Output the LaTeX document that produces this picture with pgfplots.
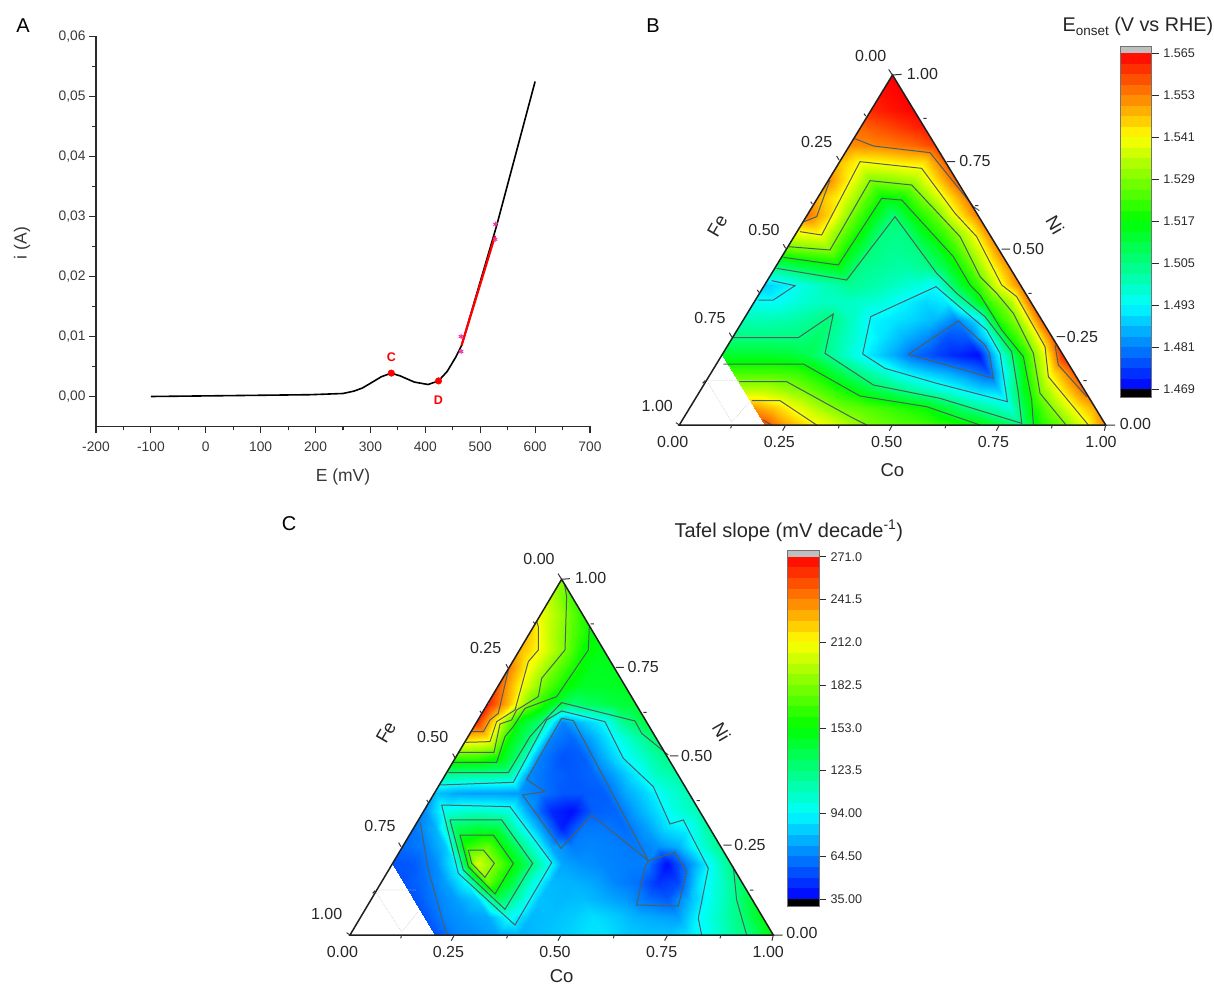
\documentclass[border=0pt]{standalone}
\usepackage{fontspec}
\setmainfont{Liberation Sans}
\usepackage{pgfplots}
\pgfplotsset{compat=1.18}
\definecolor{tk}{HTML}{2B2B2B}
\definecolor{cl}{HTML}{4F5F5F}
\pgfplotsset{
  colormap={rb}{rgb255=(0,0,255) rgb255=(0,255,255) rgb255=(0,255,0) rgb255=(255,255,0) rgb255=(255,0,0)},
}
\newcommand\fs[1]{\fontsize{#1}{#1}\selectfont}
% ---- value grids: colour-scale level (0 = scale minimum ... 8 = scale maximum) at Ni = j*0.05, Co = i*0.05
\newcommand\meshrow[3]{%
  \gdef\lastv{0}\gdef\nv{-1}%
  \foreach \v [count=\c from 0] in {#3}{%
    \pgfmathsetmacro\xx{0.05*\c+0.025*#2}\pgfmathsetmacro\yy{0.05*#2}%
    \xdef#1{#1 (\xx,\yy,0) [\v]}%
    \xdef\lastv{\v}\xdef\nv{\c}}%
  \pgfmathtruncatemacro\nst{\nv+1}%
  \ifnum\nst<21
    \foreach \c in {\nst,...,20}{%
      \pgfmathsetmacro\xx{0.05*\c+0.025*#2}\pgfmathsetmacro\yy{0.05*#2}%
      \xdef#1{#1 (\xx,\yy,0) [\lastv]}}%
  \fi}
\gdef\Bmesh{}\gdef\Cmesh{}
\meshrow\Bmesh{0}{8,8,8,8,7.4,6.7,6.2,5.8,5.3,4.95,4.75,4.6,4.4,4.2,4.0,3.5,3.0,4.25,4.9,5.8,7.0}
\meshrow\Bmesh{1}{8,8,8,6.8,6.4,5.85,5.35,4.93,4.7,4.5,4.27,4.05,3.55,3.03,2.7,2.3,4.0,5.05,6.0,6.7}
\meshrow\Bmesh{2}{6,6,5.45,5.45,5.2,4.88,4.43,3.99,3.5,3.1,2.75,2.4,2.08,1.7,1.6,3.5,5.1,6.2,7.15}
\meshrow\Bmesh{3}{4.5,4.5,4.5,4.5,4.4,4.0,3.4,2.85,2.4,1.9,1.6,1.35,1.05,0.7,2.55,4.6,6.2,7.3}
\meshrow\Bmesh{4}{3.66,3.66,3.66,3.6,3.4,2.85,2.3,1.8,1.35,0.85,0.55,0.3,0.1,2.0,3.9,5.65,7.7}
\meshrow\Bmesh{5}{3.0,3.0,3.0,3.0,3.2,2.65,2.2,1.8,1.45,1.15,0.65,0.7,1.9,4.1,5.4,7.2}
\meshrow\Bmesh{6}{2.6,2.6,2.65,2.8,3.05,2.5,1.95,1.8,1.65,1.45,1.02,1.85,4.25,5.3,7.3}
\meshrow\Bmesh{7}{2.1,2.05,2.3,2.45,2.45,2.4,2.25,1.95,1.7,1.85,3.0,4.4,5.3,7.2}
\meshrow\Bmesh{8}{1.6,1.9,2.3,2.6,2.85,2.7,2.5,2.3,2.05,3.4,4.45,5.85,7.0}
\meshrow\Bmesh{9}{3.0,3.34,3.6,3.83,2.9,2.8,2.7,2.85,3.5,4.5,5.75,6.9}
\meshrow\Bmesh{10}{4.7,4.86,5.0,3.9,3.05,2.85,2.95,3.6,4.5,5.65,6.95}
\meshrow\Bmesh{11}{6.0,6.1,5.02,3.98,3.0,2.95,3.85,4.6,5.65,6.9}
\meshrow\Bmesh{12}{7.1,6.3,5.0,4.0,3.15,4.0,4.75,6.0,7.05}
\meshrow\Bmesh{13}{6.6,6.05,5.0,4.0,4.15,5.05,6.1,7.05}
\meshrow\Bmesh{14}{6.9,6.0,5.0,5.1,5.3,6.25,7.25}
\meshrow\Bmesh{15}{6.5,6.0,6.05,6.2,6.25,7.3}
\meshrow\Bmesh{16}{6.9,6.95,7.05,7.2,7.5}
\meshrow\Bmesh{17}{7.2,7.4,7.6,7.8}
\meshrow\Bmesh{18}{7.7,7.85,8}
\meshrow\Bmesh{19}{7.9,8}
\meshrow\Bmesh{20}{8}
\meshrow\Cmesh{0}{0.6,0.6,0.6,0.6,0.65,1.05,1.15,1.3,1.4,1.5,1.6,1.75,1.8,1.6,1.55,1.55,1.8,2.15,2.7,3.1,4.0}
\meshrow\Cmesh{1}{0.6,0.6,0.6,0.65,1.05,1.2,1.35,2.1,1.45,1.5,1.6,1.75,1.6,1.4,1.3,1.25,2.0,2.5,3.1,3.9}
\meshrow\Cmesh{2}{0.6,0.6,0.65,0.98,1.25,1.6,3.3,2.5,1.5,1.45,1.5,1.35,1.2,0.9,0.7,1.4,2.15,2.75,3.6}
\meshrow\Cmesh{3}{0.6,0.65,0.85,1.25,2.0,4.8,3.65,2.4,1.45,1.4,1.3,1.05,0.9,0.4,0.55,1.8,2.4,3.15}
\meshrow\Cmesh{4}{0.65,0.7,1.1,2.0,5.7,4.8,3.7,2.6,1.3,1.15,1.05,1.0,1.0,0.1,1.1,2.05,2.95}
\meshrow\Cmesh{5}{0.85,1.0,1.55,4.3,4.75,3.6,2.5,1.3,1.0,1.05,1.0,0.95,1.15,1.4,2.2,2.9}
\meshrow\Cmesh{6}{0.9,1.4,3.3,3.55,3.45,2.3,1.3,0.25,0.95,0.95,0.85,1.25,1.75,2.0,2.8}
\meshrow\Cmesh{7}{1.1,2.2,2.4,2.4,2.25,1.2,0.3,0.1,0.75,0.8,1.3,1.75,2.3,2.6}
\meshrow\Cmesh{8}{1.5,1.3,1.25,1.25,1.2,0.95,0.7,0.7,0.75,1.3,1.7,2.25,2.6}
\meshrow\Cmesh{9}{2.85,2.75,2.75,2.7,1.05,0.8,0.7,0.8,1.3,1.85,2.5,2.7}
\meshrow\Cmesh{10}{4.55,4.5,4.1,3.0,1.0,0.65,0.75,1.4,2.0,2.5,2.95}
\meshrow\Cmesh{11}{6.3,6.1,3.95,3.0,1.0,0.8,1.35,2.0,2.6,3.2}
\meshrow\Cmesh{12}{7.6,5.9,3.85,3.1,1.05,1.55,2.0,2.95,3.5}
\meshrow\Cmesh{13}{7.7,6.5,4.8,3.85,3.1,3.3,3.5,3.65}
\meshrow\Cmesh{14}{7.3,6.1,5.0,4.1,3.7,3.7,3.75}
\meshrow\Cmesh{15}{7.0,5.9,5.0,4.2,3.75,3.8}
\meshrow\Cmesh{16}{6.6,5.95,5.05,4.05,3.85}
\meshrow\Cmesh{17}{6.4,5.45,4.7,3.95}
\meshrow\Cmesh{18}{5.9,5.15,4.3}
\meshrow\Cmesh{19}{5.4,4.55}
\meshrow\Cmesh{20}{5.0}
\pgfplotsset{
  meshaxis/.style={hide axis,scale only axis,view={0}{90},xmin=0,xmax=1,ymin=0,ymax=1,zmin=-1,zmax=1,
    point meta min=0,point meta max=8,clip=true},
  overlay/.style={hide axis,scale only axis,clip=false,y dir=reverse},
  cont/.style={cl,line width=1pt,no marks,sharp plot},
  cbar/.style={scale only axis,width=31.7pt,clip=false,xmin=0,xmax=1,ymin=0,ymax=32,xtick=\empty,
    ytick={0,4,...,32},ytick pos=right,tick align=outside,major tick length=7pt,
    tick style={tk,line width=0.7pt},axis line style={draw=gray!90!black,line width=0.8pt},
    yticklabel style={font=\fs{12.6},text=tk,xshift=1pt}},
}
\newcommand\colorbands{%
  \pgfplotsinvokeforeach{0,...,31}{%
    \pgfmathsetmacro\L{(##1+0.5)/4}%
    \pgfmathsetmacro\r{max(0,min(1,(\L-4)/2))}%
    \pgfmathsetmacro\g{\L<2 ? \L/2 : (\L>6 ? (8-\L)/2 : 1)}%
    \pgfmathsetmacro\b{\L<2 ? 1 : (\L<4 ? (4-\L)/2 : 0)}%
    \pgfmathtruncatemacro\nn{##1+1}%
    \edef\tmp{\noexpand\fill[fill={rgb,1:red,\r;green,\g;blue,\b}] (0,##1) rectangle (1,\nn);}\tmp}%
}
\begin{document}
\begin{tikzpicture}[x=1pt,y=1pt]
\useasboundingbox (0,0) rectangle (1214,986);
% ======================= A
\begin{axis}[at={(96pt,559.5pt)},anchor=south west,scale only axis,width=494pt,height=390pt,
  xmin=-200,xmax=700,ymin=-0.005,ymax=0.06,
  axis x line*=bottom,axis y line*=left,
  xtick={-200,-100,...,700},minor x tick num=1,
  ytick={0,0.01,...,0.06},minor y tick num=1,
  scaled y ticks=false,
  tick align=outside,major tick length=7pt,minor tick length=4pt,
  axis line style={tk,line width=1.3pt},tick style={tk,line width=1.1pt},
  /pgf/number format/assume math mode=true,
  y tick label style={/pgf/number format/use comma,/pgf/number format/fixed,/pgf/number format/fixed zerofill,/pgf/number format/precision=2},
  x tick label style={yshift=-5pt},
  ticklabel style={font=\fs{13.8},text=black!78},
  clip=false,
]
\addplot[black,line width=1.6pt,no marks,forget plot] coordinates {(-100,0)(0,0.0001)(190,0.0003)(250,0.0005)(270,0.0009)(285,0.0014)(300,0.0022)(320,0.0033)(338,0.0039)(355,0.0034)(380,0.0024)(405,0.0020)(424,0.0026)(440,0.0042)(455,0.0065)(466,0.0085)(530,0.0285)(600,0.0525)};
\addplot[red,line width=2.2pt,no marks] coordinates {(466,0.0085)(527,0.0268)};
\addplot[only marks,mark=asterisk,mark size=2.6pt,magenta!80!white,line width=1pt] coordinates {(465,0.0100)(465,0.0075)(528,0.0287)(527,0.0262)};
\addplot[only marks,mark=*,mark size=3.3pt,red,mark options={draw=red,fill=red}] coordinates {(338,0.0039)(424,0.0026)};
\node[red,font=\fs{12.5}\bfseries] at (axis cs:338,0.0065) {C};
\node[red,font=\fs{12.5}\bfseries] at (axis cs:424,-0.0006) {D};
\end{axis}
\node[font=\fs{17.5},text=black!78] at (343,509) {E (mV)};
\node[font=\fs{17.5},text=black!78,rotate=90] at (22,743) {i (A)};
\node[font=\fs{20}] at (23,960) {A};
\node[font=\fs{20}] at (653,960) {B};
\node[font=\fs{20}] at (289,462) {C};
% ======================= B map
\begin{axis}[meshaxis,at={(679.3pt,561pt)},anchor=south west,width=426.4pt,height=350pt]
\clip (0.2,0,0) -- (1,0,0) -- (0.5,1,0) -- (0.1,0.2,0) -- cycle;
\edef\tmp{\noexpand\addplot3[surf,shader=interp,mesh/cols=21,point meta=explicit] coordinates {\Bmesh};}\tmp
\end{axis}
\begin{axis}[overlay,at={(679.3pt,561pt)},anchor=south west,width=426.4pt,height=350pt,
  xmin=118,xmax=1397,ymin=105,ymax=1155]
\addplot[cont] coordinates {(805,943)(955,843)(1035,915)(1048,940)(1060,1015)(805,943)};
\addplot[cont] coordinates {(668,942)(692,830)(888,740)(1040,870)(1080,940)(1102,1085)(890,1030)(735,985)(668,942)};
\addplot[cont] coordinates {(395,722)(465,737)(400,780)(355,780)};
\addplot[cont] coordinates {(275,893)(475,893)(580,822)(555,940)(700,1035)(900,1075)(1145,1150)(1135,1060)(1115,935)(1035,830)(950,760)(890,700)(765,530)(620,720)(410,685)};
\addplot[cont] coordinates {(430,652)(595,675)(725,475)(785,480)(940,650)(990,735)(1020,765)(1085,870)(1150,950)(1175,1080)(1180,1155)};
\addplot[cont] coordinates {(250,972)(490,972)(660,1068)(860,1100)(1020,1155)};
\addplot[cont] coordinates {(445,620)(570,630)(690,422)(815,435)(960,590)(1020,710)(1070,760)(1120,820)(1180,940)(1200,1060)(1278,1155)};
\addplot[cont] coordinates {(298,1025)(440,1025)(640,1135)(680,1155)};
\addplot[cont] coordinates {(480,575)(545,585)(660,365)(845,385)(945,520)(1010,590)(1085,735)(1130,770)(1215,920)(1225,1010)(1345,1155)};
\addplot[cont] coordinates {(335,1082)(420,1082)(530,1155)};
\addplot[cont] coordinates {(642,295)(700,318)(870,338)(1000,500)(1018,512)};
\addplot[cont] coordinates {(1245,915)(1255,975)(1340,1070)};
\addplot[cont] coordinates {(492,545)(530,530)(570,420)};
\addplot[cont] coordinates {(370,1140)(395,1155)};
% faint grid in the empty corner
\draw[gray!40,densely dotted,line width=0.6pt] (205,1022)--(335,1022) (205,1030)--(275,1145)--(335,1080);
% frame and ticks
\draw[black!88,line width=1.5pt] (118,1155)--(757.5,105)--(1397,1155)--cycle;
\draw[black!80,line width=1pt]
  (118,1155)--(108,1148) (275,1155)--(272,1165) (437,1155)--(428,1172) (598,1155)--(595,1165) (757,1155)--(748,1172) (918,1155)--(915,1165) (1078,1155)--(1069,1172) (1237,1155)--(1234,1165) (1397,1155)--(1393,1172)
  (195,1022)--(188,1030) (275,890)--(268,878) (357,757)--(352,750) (437,625)--(430,613) (517,492)--(512,485) (597,360)--(590,348) (677,228)--(672,221) (757,105)--(746,88)
  (757,105)--(785,103) (850,235)--(860,235) (920,365)--(945,365) (1005,497)--(1015,497) (1085,627)--(1110,627) (1165,760)--(1175,760) (1250,890)--(1275,890) (1330,1022)--(1340,1022) (1397,1155)--(1425,1155);
\tikzset{tl/.style={font=\fs{16},text=black!85,inner sep=0pt}}
\node[tl] at (98,1205) {0.00}; \node[tl] at (418,1205) {0.25}; \node[tl] at (740,1205) {0.50}; \node[tl] at (1060,1205) {0.75}; \node[tl] at (1383,1205) {1.00};
\node[tl] at (692,47) {0.00}; \node[tl] at (530,307) {0.25}; \node[tl] at (372,570) {0.50}; \node[tl] at (210,835) {0.75}; \node[tl] at (52,1097) {1.00};
\node[tl] at (847,103) {1.00}; \node[tl] at (1005,363) {0.75}; \node[tl] at (1165,627) {0.50}; \node[tl] at (1327,890) {0.25}; \node[tl] at (1486,1152) {0.00};
\node[font=\fs{18.5},text=black!85,rotate=60] at (232,557) {Fe};
\node[font=\fs{18.5},text=black!85,rotate=-60] at (1245,555) {Ni};
\node[font=\fs{18.5},text=black!85] at (757,1290) {Co};
\end{axis}
% B colour bar
\begin{axis}[cbar,at={(1120pt,596.7pt)},anchor=south west,height=336pt,
  yticklabels={1.469,1.481,1.493,1.505,1.517,1.529,1.541,1.553,1.565}]
\colorbands
\fill[gray!50] (0,32) rectangle (1,32.62);
\fill[black] (0,0) rectangle (1,-0.75);
\draw[gray!90!black,line width=0.8pt] (0,-0.75) rectangle (1,32.62);
\end{axis}
\node[anchor=base west,font=\fs{19.8},text=black!85] at (1059,954) {E\raisebox{-3.5pt}{\fs{13.5}onset} (V vs RHE)};
% ======================= C map
\begin{axis}[meshaxis,at={(350pt,51pt)},anchor=south west,width=423.3pt,height=355.7pt]
\clip (0.2,0,0) -- (1,0,0) -- (0.5,1,0) -- (0.1,0.2,0) -- cycle;
\edef\tmp{\noexpand\addplot3[surf,shader=interp,mesh/cols=21,point meta=explicit] coordinates {\Cmesh};}\tmp
\end{axis}
\begin{axis}[overlay,at={(350pt,51pt)},anchor=south west,width=423.3pt,height=355.7pt,
  xmin=90,xmax=1360,ymin=88,ymax=1155]
\addplot[cont] coordinates {(445,900)(490,900)(523,940)(495,982)(455,940)(445,900)};
\addplot[cont] coordinates {(420,855)(520,855)(580,940)(525,1032)(445,950)(420,855)};
\addplot[cont] coordinates {(390,810)(545,810)(638,940)(555,1078)(430,960)(390,810)};
\addplot[cont] coordinates {(365,765)(570,770)(695,938)(585,1125)(415,970)(365,765)};
\addplot[cont] coordinates {(725,505)(760,512)(985,932)(815,795)(723,895)(608,735)(675,725)(620,688)(725,505)};
\addplot[cont] coordinates {(985,932)(1065,907)(1100,965)(1075,1068)(950,1065)(975,950)(985,932)};
\addplot[cont] coordinates {(300,815)(325,960)(370,1120)(382,1155)};
\addplot[cont] coordinates {(360,705)(580,697)(680,510)(725,483)(855,515)(910,625)(1000,710)(1050,822)(1090,810)(1165,955)(1135,1105)(1145,1155)};
\addplot[cont] coordinates {(385,668)(565,668)(630,560)(670,515)(725,458)(945,513)(965,550)(1045,615)};
\addplot[cont] coordinates {(1240,950)(1250,1050)(1280,1155)};
\addplot[cont] coordinates {(398,637)(530,637)(555,560)(580,530)(615,475)(710,440)(805,300)(808,230)};
\addplot[cont] coordinates {(417,607)(522,607)(540,522)(575,510)(590,480)(655,440)(665,385)(735,300)(740,140)(733,100)};
\addplot[cont] coordinates {(437,577)(510,575)(530,515)(585,480)(625,335)(655,300)(655,230)(650,213)};
\addplot[cont] coordinates {(456,545)(490,545)(510,510)(535,490)(565,360)};
\draw[gray!40,densely dotted,line width=0.6pt] (170,1020)--(290,1020) (170,1030)--(245,1145)--(295,1085);
\draw[black!88,line width=1.5pt] (90,1155)--(725,88)--(1360,1155)--cycle;
\draw[black!80,line width=1pt]
  (90,1155)--(80,1148) (245,1155)--(242,1165) (403,1155)--(394,1172) (563,1155)--(560,1165) (723,1155)--(714,1172) (883,1155)--(880,1165) (1043,1155)--(1034,1172) (1203,1155)--(1200,1165) (1360,1155)--(1356,1172)
  (165,1022)--(158,1030) (243,890)--(236,878) (325,757)--(320,750) (405,623)--(398,611) (485,490)--(480,483) (565,355)--(558,343) (645,222)--(640,215) (725,88)--(714,71)
  (725,88)--(750,86) (812,222)--(822,222) (888,352)--(912,352) (970,487)--(980,487) (1050,618)--(1075,618) (1130,752)--(1140,752) (1210,885)--(1235,885) (1290,1020)--(1300,1020) (1360,1155)--(1388,1155);
\tikzset{tl/.style={font=\fs{16},text=black!85,inner sep=0pt}}
\node[tl] at (67,1205) {0.00}; \node[tl] at (385,1205) {0.25}; \node[tl] at (705,1205) {0.50}; \node[tl] at (1025,1205) {0.75}; \node[tl] at (1345,1205) {1.00};
\node[tl] at (657,27) {0.00}; \node[tl] at (497,293) {0.25}; \node[tl] at (338,560) {0.50}; \node[tl] at (180,828) {0.75}; \node[tl] at (20,1093) {1.00};
\node[tl] at (812,85) {1.00}; \node[tl] at (970,350) {0.75}; \node[tl] at (1130,617) {0.50}; \node[tl] at (1290,885) {0.25}; \node[tl] at (1446,1149) {0.00};
\node[font=\fs{18.5},text=black!85,rotate=60] at (198,547) {Fe};
\node[font=\fs{18.5},text=black!85,rotate=-60] at (1205,545) {Ni};
\node[font=\fs{18.5},text=black!85] at (725,1278) {Co};
\end{axis}
% C colour bar
\begin{axis}[cbar,at={(787.3pt,87pt)},anchor=south west,height=342.3pt,
  yticklabels={35.00,64.50,94.00,123.5,153.0,182.5,212.0,241.5,271.0}]
\colorbands
\fill[gray!50] (0,32) rectangle (1,32.62);
\fill[black] (0,0) rectangle (1,-0.72);
\draw[gray!90!black,line width=0.8pt] (0,-0.72) rectangle (1,32.62);
\end{axis}
\node[anchor=base west,font=\fs{20},text=black!85] at (671,449) {Tafel slope (mV decade\textsuperscript{-1})};
\end{tikzpicture}
\end{document}
